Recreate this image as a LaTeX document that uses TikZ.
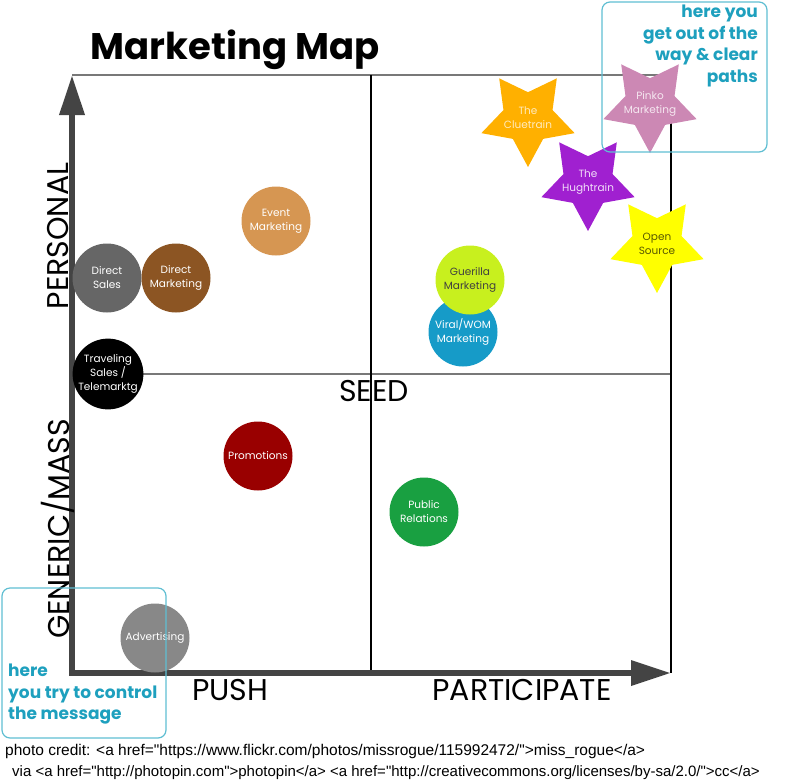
\documentclass[tikz,border=0pt]{standalone}
\usepackage{fontspec}
\setmainfont{Poppins}
\newfontfamily\creditfont{Liberation Sans}
\usetikzlibrary{arrows.meta,shapes.geometric}

\definecolor{gridc}{RGB}{120,120,120}
\definecolor{axisc}{RGB}{68,68,68}
\definecolor{eventc}{RGB}{214,150,82}
\definecolor{dsalesc}{RGB}{102,102,102}
\definecolor{dmarkc}{RGB}{140,85,35}
\definecolor{guerc}{RGB}{200,240,30}
\definecolor{viralc}{RGB}{22,155,200}
\definecolor{promc}{RGB}{153,0,0}
\definecolor{prc}{RGB}{25,160,65}
\definecolor{advc}{RGB}{136,136,136}
\definecolor{cluec}{RGB}{255,176,0}
\definecolor{pinkoc}{RGB}{204,136,180}
\definecolor{hughc}{RGB}{160,32,208}
\definecolor{openc}{RGB}{255,255,0}
\definecolor{boxc}{RGB}{95,190,210}
\definecolor{hintc}{RGB}{30,160,190}

\tikzset{
  grid line/.style={line width=1.8pt, draw=gridc},
  thin line/.style={line width=1.2pt, draw=black},
  axis/.style={line width=6.5pt, draw=axisc, -{Triangle[width=24pt,length=40pt]}},
  axis label/.style={font=\fontsize{30}{30}\selectfont, inner sep=0pt},
  bubble/.style={circle, minimum size=69pt, inner sep=0pt, align=center, text=white,
    font=\fontsize{10.5}{14}\selectfont},
  starshape/.style={star, star points=5, star point ratio=1.9, shape border rotate=180,
    minimum size=98pt, inner sep=0pt},
  startext/.style={align=center, font=\fontsize{10.5}{14}\selectfont},
  hint box/.style={draw=boxc, line width=1.2pt, rounded corners=8pt},
  hint/.style={text=hintc, inner sep=0pt, font=\bfseries\fontsize{17}{21.5}\selectfont},
  credit/.style={anchor=base west, inner sep=0pt, font=\creditfont\fontsize{15.5}{16}\selectfont},
}

\begin{document}
\begin{tikzpicture}[x=1pt, y=-1pt]
\useasboundingbox (0,0) rectangle (805,779);

% title
\node[font=\bfseries\fontsize{37}{37}\selectfont] (title) at (235,50) {Marketing Map};

% quadrant lines
\coordinate (o) at (72,673);
\coordinate (tl) at (72,75);
\coordinate (tr) at (671,75);
\coordinate (br) at (671,673);
\coordinate (ml) at (72,374);
\coordinate (mr) at (671,374);
\coordinate (mt) at (371,75);
\coordinate (mb) at (371,673);
\draw[grid line] (tl) -- (tr);
\draw[grid line] (ml) -- (mr);
\draw[thin line] (tr) -- (br);
\draw[thin line] (mt) -- (mb);

% axes
\draw[axis] ([yshift=3pt]o) -- (tl);
\draw[axis] ([xshift=-3pt]o) -- (br);

\node[axis label, rotate=90] (personal) at (58,236) {PERSONAL};
\node[axis label, rotate=90] (generic) at (58,529) {GENERIC/MASS};
\node[axis label] (push) at (230,690) {PUSH};
\node[axis label] (participate) at (522,690) {PARTICIPATE};
\node[axis label] (seed) at (374,391) {SEED};

% circles
\node[bubble, fill=eventc] (event) at (276,221) {Event\\Marketing};
\node[bubble, fill=dsalesc] (dsales) at (107,278) {Direct\\Sales};
\node[bubble, fill=dmarkc] (dmark) at (176,278) {Direct\\Marketing};
\node[bubble, fill=black] (travel) at (108,374) {Traveling\\Sales /\\Telemarktg};
\node[bubble, fill=viralc] (viral) at (463,332) {Viral/WOM\\Marketing};
\node[bubble, fill=guerc, text=black!75] (guerilla) at (470,280) {Guerilla\\Marketing};
\node[bubble, fill=promc] (promo) at (258,456) {Promotions};
\node[bubble, fill=prc] (pr) at (424,512) {Public\\Relations};
\node[bubble, fill=advc] (advert) at (155,638) {Advertising};

% stars
\node[starshape, fill=cluec] (clue) at (528,118) {};
\node[startext, text=cluec!25] (cluetext) at (clue) {The\\Cluetrain};
\node[starshape, fill=pinkoc] (pinko) at (650,104) {};
\node[startext, text=pinkoc!20] (pinkotext) at (pinko) {Pinko\\Marketing};
\node[starshape, fill=hughc] (hugh) at (588,182) {};
\node[startext, text=hughc!15] (hughtext) at (hugh) {The\\Hughtrain};
\node[starshape, fill=openc] (open) at (657,244) {};
\node[startext, text=black!65!openc] (opentext) at (open) {Open\\Source};

% hint boxes
\draw[hint box] (602,2) rectangle (767,152);
\node[hint, align=right, anchor=north east] (gethint) at (758,5)
  {here you\\get out of the\\way \& clear\\paths};
\draw[hint box] (2,588) rectangle (166,738);
\node[hint, align=left, anchor=north west] (controlhint) at (8,664)
  {here\\you try to control\\the message};

% credit
\node[credit] (credit1) at (5,755)
  {photo credit: <a href="https://www.flickr.com/photos/missrogue/115992472/">miss\_rogue</a>};
\node[credit, font=\creditfont\fontsize{15}{16}\selectfont] (credit2) at (12,776)
  {via <a href="http://photopin.com">photopin</a> <a href="http://creativecommons.org/licenses/by-sa/2.0/">cc</a>};
\end{tikzpicture}
\end{document}
